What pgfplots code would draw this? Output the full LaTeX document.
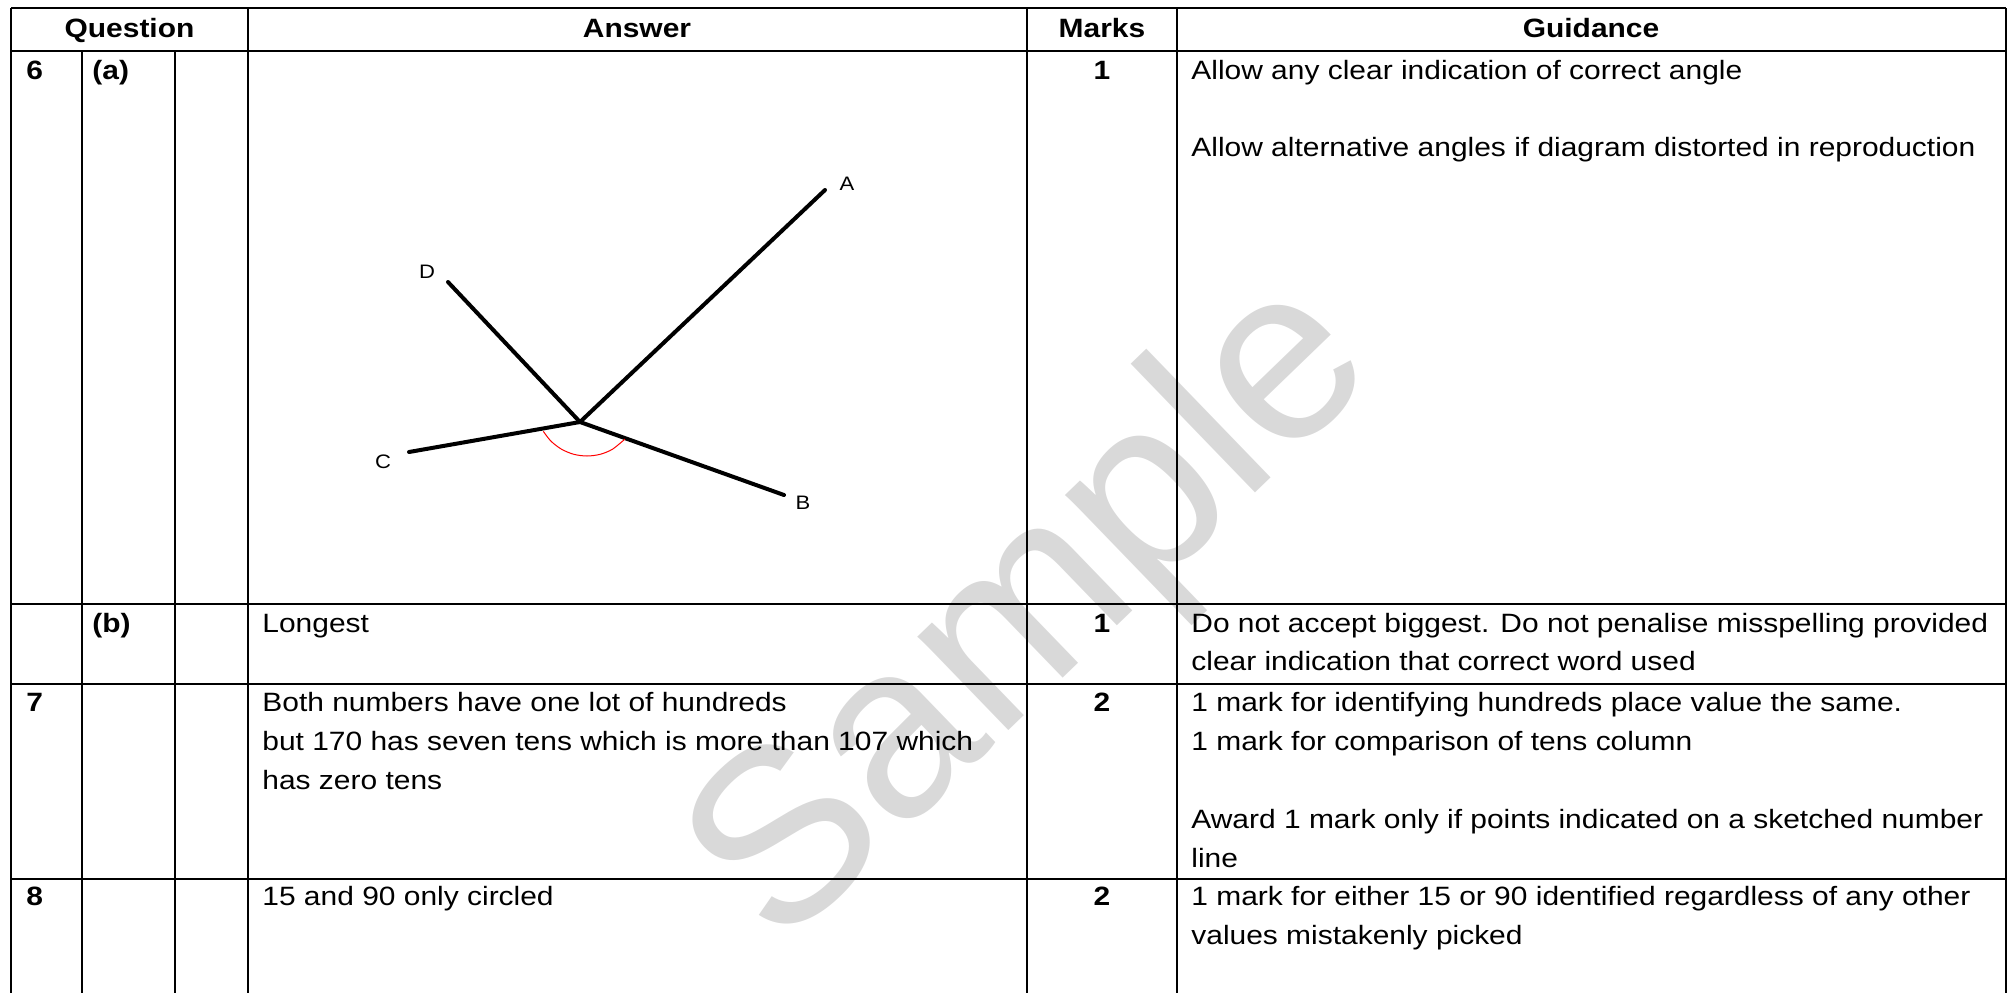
\documentclass[border=0pt]{standalone}
\usepackage{pgfplots}
\pgfplotsset{compat=1.18}
\usepackage{fontspec}
\setmainfont[FakeStretch=1.13]{Liberation Sans}
\newfontfamily\wmfont{Liberation Sans}

% one unit = one pixel of the 2008 x 993 sheet, y runs downwards
\pgfplotsset{
  grid line/.style={black, line width=0.85pt, forget plot},
  ray/.style={black, line width=2pt, line cap=round, forget plot},
}
\tikzset{
  cell/.style={inner sep=0pt, anchor=base west, font=\fontsize{13.25}{15}\selectfont},
  boldcell/.style={inner sep=0pt, anchor=base west, font=\fontsize{13.25}{15}\selectfont\bfseries},
  head/.style={inner sep=0pt, anchor=base, font=\fontsize{13.25}{15}\selectfont\bfseries},
  pt/.style={inner sep=0pt, anchor=center, font=\fontsize{9.75}{11}\selectfont},
}

\begin{document}
\begin{tikzpicture}
\begin{axis}[
    width=1004pt, height=496.5pt, scale only axis,
    xmin=0, xmax=2008, ymin=0, ymax=993,
    y dir=reverse,
    hide axis, clip=false,
  ]
  % page extent
  \addplot[draw=none, forget plot] coordinates {(0,0) (2008,993)};

  % watermark, under everything, kept out of the bounding box
  \node[overlay, rotate=44, text=black!15, inner sep=0pt,
        font=\wmfont\fontsize{123.5}{124}\selectfont] at (axis cs:1036,616) {Sample};

  % table rules
  \addplot[grid line] coordinates {(11,8) (2006,8)};
  \addplot[grid line] coordinates {(11,51) (2006,51)};
  \addplot[grid line] coordinates {(11,604) (2006,604)};
  \addplot[grid line] coordinates {(11,684) (2006,684)};
  \addplot[grid line] coordinates {(11,879) (2006,879)};
  \addplot[grid line] coordinates {(11,8) (11,993)};
  \addplot[grid line] coordinates {(82,51) (82,993)};
  \addplot[grid line] coordinates {(175,51) (175,993)};
  \addplot[grid line] coordinates {(248,8) (248,993)};
  \addplot[grid line] coordinates {(1027,8) (1027,993)};
  \addplot[grid line] coordinates {(1177,8) (1177,993)};
  \addplot[grid line] coordinates {(2006,8) (2006,993)};

  % header
  \node[head] at (axis cs:129.5,37) {Question};
  \node[head] at (axis cs:637,37) {Answer};
  \node[head] at (axis cs:1102,37) {Marks};
  \node[head] at (axis cs:1591,37) {Guidance};

  % question 6 (a): the angle diagram
  \addplot[ray] coordinates {(580,422) (825,190)};
  \addplot[ray] coordinates {(580,422) (448,282)};
  \addplot[ray] coordinates {(580,422) (409,452)};
  \addplot[ray] coordinates {(580,422) (784,495)};
  \addplot[red, line width=0.5pt, smooth, forget plot] coordinates {
    (543.3,431.3) (550.9,441.1) (561.5,449.2) (573.8,454.3) (587,456)
    (600.2,454.3) (612.5,449.2) (624.9,439.1)};
  \node[pt] at (axis cs:847,184) {A};
  \node[pt] at (axis cs:803,503) {B};
  \node[pt] at (axis cs:383,462) {C};
  \node[pt] at (axis cs:427,272) {D};

  \node[boldcell] at (axis cs:26,79) {6};
  \node[boldcell] at (axis cs:92,79) {(a)};
  \node[head] at (axis cs:1102,79) {1};
  \node[cell] at (axis cs:1191,79) {Allow any clear indication of correct angle};
  \node[cell] at (axis cs:1191,156) {Allow alternative angles if diagram distorted in reproduction};

  % question 6 (b)
  \node[boldcell] at (axis cs:92,632) {(b)};
  \node[cell] at (axis cs:262,632) {Longest};
  \node[head] at (axis cs:1102,632) {1};
  \node[cell] at (axis cs:1191,632) {Do not accept biggest. Do not penalise misspelling provided};
  \node[cell] at (axis cs:1191,670) {clear indication that correct word used};

  % question 7
  \node[boldcell] at (axis cs:26,711) {7};
  \node[cell] at (axis cs:262,711) {Both numbers have one lot of hundreds};
  \node[cell] at (axis cs:262,750) {but 170 has seven tens which is more than 107 which};
  \node[cell] at (axis cs:262,789) {has zero tens};
  \node[head] at (axis cs:1102,711) {2};
  \node[cell] at (axis cs:1191,711) {1 mark for identifying hundreds place value the same.};
  \node[cell] at (axis cs:1191,750) {1 mark for comparison of tens column};
  \node[cell] at (axis cs:1191,828) {Award 1 mark only if points indicated on a sketched number};
  \node[cell] at (axis cs:1191,867) {line};

  % question 8
  \node[boldcell] at (axis cs:26,905) {8};
  \node[cell] at (axis cs:262,905) {15 and 90 only circled};
  \node[head] at (axis cs:1102,905) {2};
  \node[cell] at (axis cs:1191,905) {1 mark for either 15 or 90 identified regardless of any other};
  \node[cell] at (axis cs:1191,944) {values mistakenly picked};
\end{axis}
\end{tikzpicture}
\end{document}
